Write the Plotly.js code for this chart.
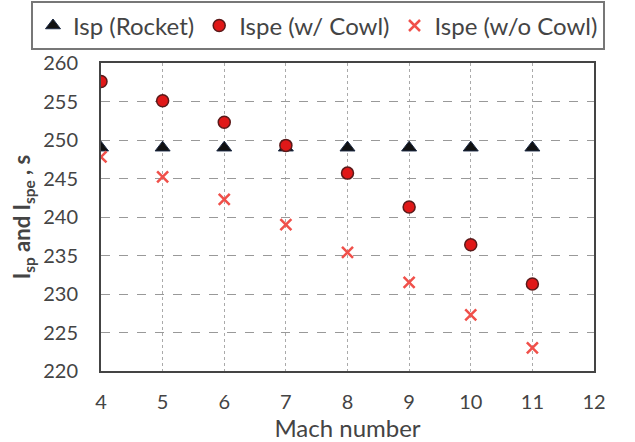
<!DOCTYPE html>
<html><head><meta charset="utf-8">
<script src="https://cdn.plot.ly/plotly-3.0.1.min.js"></script>
<style>body{margin:0;background:#fff}#c{width:635px;height:442px}</style>
</head><body><div id="c"></div>
<script>
const mach = [4, 5, 6, 7, 8, 9, 10, 11];
const ispRocket = [249, 249, 249, 249, 249, 249, 249, 249];
const ispeCowl = [257.6, 255.1, 252.3, 249.3, 245.7, 241.3, 236.4, 231.3];
const ispeNoCowl = [247.8, 245.2, 242.3, 239.0, 235.4, 231.5, 227.3, 223.0];
const xTicks = [4, 5, 6, 7, 8, 9, 10, 11, 12];
const yTicks = [220, 225, 230, 235, 240, 245, 250, 255, 260];

const F = "Lato, 'Open Sans', sans-serif";
const traces = [
  {x: mach, y: ispRocket, name: 'Isp (Rocket)', mode: 'markers', type: 'scatter',
   marker: {symbol: 'triangle-up', size: 13, color: '#111', line: {color: '#1c2a44', width: 1}}},
  {x: mach, y: ispeCowl, name: 'Ispe (w/ Cowl)', mode: 'markers', type: 'scatter',
   marker: {symbol: 'circle', size: 12, color: '#e01818', line: {color: '#5a1a1a', width: 1.5}}},
  {x: mach, y: ispeNoCowl, name: 'Ispe (w/o Cowl)', mode: 'markers', type: 'scatter',
   marker: {symbol: 'x-thin', size: 11, color: '#f0504a', line: {color: '#f0504a', width: 2.5}}}
];
const layout = {
  width: 635, height: 442,
  margin: {l: 101, r: 41, t: 63, b: 71, autoexpand: false},
  paper_bgcolor: '#fff', plot_bgcolor: '#fff',
  font: {family: F, color: '#444'},
  showlegend: true,
  legend: {orientation: 'h', xref: 'paper', x: -0.142, xanchor: 'left',
    yref: 'paper', y: 1.2, yanchor: 'top',
    bordercolor: '#777', borderwidth: 2, font: {size: 24, color: '#444', family: F},
    itemwidth: 30, tracegroupgap: 0},
  xaxis: {range: [4, 12], tickvals: xTicks, ticktext: xTicks.map(String),
    showgrid: true, gridcolor: '#aaa', griddash: 'dot', gridwidth: 1,
    showline: true, linecolor: '#444', linewidth: 2, mirror: true, zeroline: false,
    ticks: 'outside', ticklen: 12, tickcolor: 'rgba(0,0,0,0)',
    tickfont: {size: 20, color: '#444', family: F},
    title: {text: 'Mach number', font: {size: 24, color: '#444', family: F}, standoff: 0}},
  yaxis: {range: [220, 260], tickvals: yTicks, ticktext: yTicks.map(String),
    showgrid: true, gridcolor: '#999', griddash: 'dash', gridwidth: 1,
    showline: true, linecolor: '#444', linewidth: 2, mirror: true, zeroline: false,
    ticks: 'outside', ticklen: 17, tickcolor: 'rgba(0,0,0,0)',
    tickfont: {size: 20, color: '#444', family: F},
    title: {text: '<b>I<sub>sp</sub> and I<sub>spe</sub> , s</b>', font: {size: 22, color: '#444', family: F}, standoff: 6}}
};
Plotly.newPlot('c', traces, layout, {displayModeBar: false, staticPlot: true});
</script></body></html>
